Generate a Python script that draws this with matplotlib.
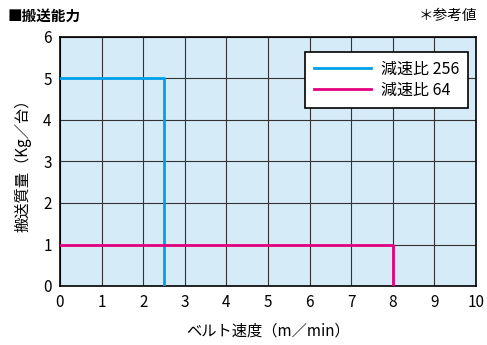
import matplotlib
matplotlib.use("Agg")
import matplotlib.pyplot as plt

plt.rcParams['font.family'] = ['Noto Sans CJK JP', 'DejaVu Sans']

# ================== データ ==================
speed_256 = [0, 2.5, 2.5]
mass_256 = [5, 5, 0]
speed_64 = [0, 8, 8]
mass_64 = [1, 1, 0]
labels = ["減速比 256", "減速比 64"]
# ============================================

BLUE = "#00a0e9"
MAGENTA = "#e4007f"

fig = plt.figure(figsize=(4.87, 3.45), dpi=100)
ax = fig.add_axes([60 / 487, 1 - 286 / 345, 416 / 487, 249 / 345])
ax.set_facecolor("#d5ebf7")

ax.plot(speed_256, mass_256, color=BLUE, lw=2, label=labels[0], zorder=3)
ax.plot(speed_64, mass_64, color=MAGENTA, lw=2, label=labels[1], zorder=3)

ax.set_xlim(0, 10)
ax.set_ylim(0, 6)
ax.set_xticks(range(0, 11))
ax.set_yticks(range(0, 7))
ax.grid(True, color="#333333", lw=0.8)
ax.set_axisbelow(True)
ax.tick_params(length=0, labelsize=11, pad=6)
for s in ax.spines.values():
    s.set_linewidth(1.2)
    s.set_color("black")

ax.set_xlabel("ベルト速度（m／min）", fontsize=11, labelpad=8)
ax.set_ylabel("搬送質量（Kg／台）", fontsize=11, labelpad=8)

leg = ax.legend(loc="upper right", bbox_to_anchor=(0.981, 0.94), fontsize=11.5,
                frameon=True, fancybox=False, edgecolor="black",
                handlelength=3.6, borderpad=0.55, labelspacing=0.25,
                borderaxespad=0, handletextpad=0.6)
leg.get_frame().set_linewidth(1.2)
leg.get_frame().set_alpha(1)

fig.text(8 / 487, 1 - 16 / 345, "■搬送能力", fontsize=10.5, fontweight="bold",
         va="center", ha="left")
fig.text(477 / 487, 1 - 16 / 345, "＊参考値", fontsize=10.5, va="center", ha="right")

fig.savefig("out.png", dpi=100)
